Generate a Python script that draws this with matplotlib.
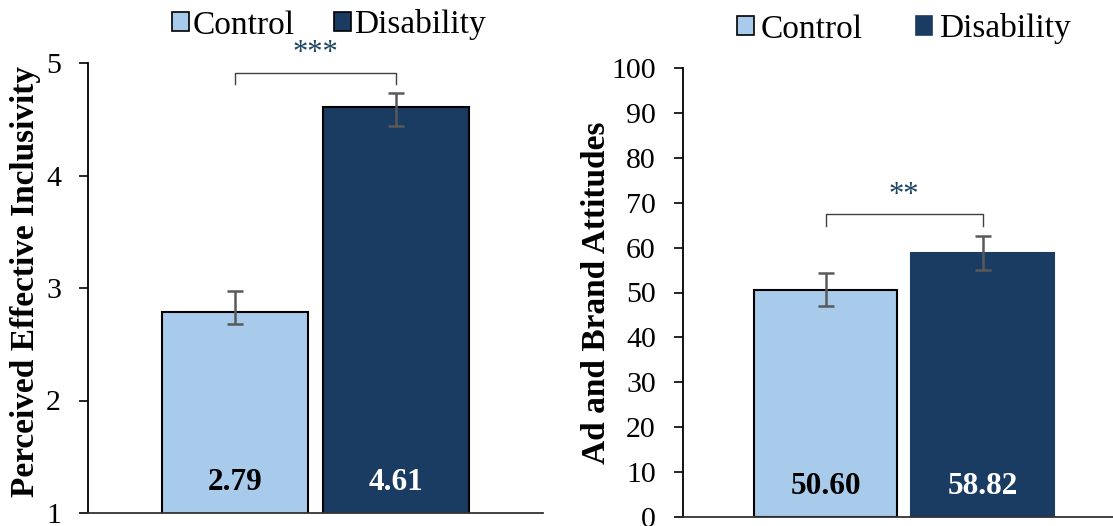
import matplotlib.pyplot as plt
from matplotlib.patches import Patch
import numpy as np

plt.rcParams['font.family'] = ['Liberation Serif', 'DejaVu Serif']

groups = ["Control", "Disability"]

# Perceived Effective Inclusivity
incl_means = [2.79, 4.61]
incl_err_low = [0.11, 0.17]
incl_err_high = [0.18, 0.12]
incl_ticks = [1, 2, 3, 4, 5]
incl_sig = "***"

# Ad and Brand Attitudes
att_means = [50.60, 58.82]
att_err_low = [3.7, 3.7]
att_err_high = [3.7, 3.7]
att_ticks = [0, 10, 20, 30, 40, 50, 60, 70, 80, 90, 100]
att_sig = "**"

col_ctrl = '#a8caeb'
col_dis = '#1a3c63'
col_err = '#595959'
col_star = '#1f4560'

W, H = 1113, 526
fig = plt.figure(figsize=(W / 100, H / 100), dpi=100)
ax1 = fig.add_axes([88 / W, 1 - 513 / H, (543 - 88) / W, 450 / H])
ax2 = fig.add_axes([683 / W, 1 - 517 / H, (W - 683) / W, 449 / H])


def draw_panel(ax, means, elow, ehigh, ticks, ylim, xlim, ylabel, lab_xy, sig, br_top, br_bot,
               star_y, dis_edge):
    x = np.arange(len(means))
    edges = ['black', 'black' if dis_edge else col_dis]
    ax.bar(x, means, width=0.91, color=[col_ctrl, col_dis], edgecolor=edges, linewidth=1.5,
           zorder=2)
    ax.errorbar(x, means, yerr=[elow, ehigh], fmt='none', ecolor=col_err, elinewidth=1.8,
                capsize=6, capthick=1.8, zorder=3)
    # подписи значений у основания столбцов
    for xi, m, c in zip(x, means, ['black', 'white']):
        ax.text(xi, 0.067, "{:.2f}".format(m), transform=ax.get_xaxis_transform(),
                ha='center', va='center', fontsize=22.5, fontweight='bold', color=c, zorder=4)
    # скобка значимости
    ax.plot([0, 0, 1, 1], [br_bot, br_top, br_top, br_bot], color='#404040', lw=1.0,
            clip_on=False)
    ax.text(0.5, star_y, sig, ha='center', va='center', fontsize=22, color=col_star,
            clip_on=False)
    ax.set_ylim(*ylim)
    ax.set_xlim(*xlim)
    ax.set_yticks(ticks)
    ax.set_xticks([])
    ax.tick_params(axis='y', direction='out', length=6.5, width=1.2, labelsize=21.5, pad=13)
    ax.spines['top'].set_visible(False)
    ax.spines['right'].set_visible(False)
    ax.spines['left'].set_linewidth(1.3)
    ax.spines['bottom'].set_linewidth(1.3)
    ax.spines['bottom'].set_color('#333333')
    ax.set_ylabel(ylabel, fontsize=24, fontweight='bold')
    ax.yaxis.set_label_coords(*lab_xy)


draw_panel(ax1, incl_means, incl_err_low, incl_err_high, incl_ticks, (1, 5), (-0.913, 1.913),
           "Perceived Effective Inclusivity", (-0.103, 0.515), incl_sig, 4.91, 4.81, 5.08, True)
draw_panel(ax2, att_means, att_err_low, att_err_high, att_ticks, (0, 100), (-0.908, 1.83),
           "Ad and Brand Attitudes", (-0.165, 0.5), att_sig, 67.5, 64.8, 71.6, False)

# легенды над панелями
h1 = [Patch(facecolor=col_ctrl, edgecolor='black', linewidth=1.2),
      Patch(facecolor=col_dis, edgecolor='black', linewidth=1.2)]
fig.legend(h1, groups, loc='center', bbox_to_anchor=(329 / W, 1 - 25 / H), ncol=2,
           frameon=False, fontsize=24, handlelength=0.5, handleheight=0.5, handletextpad=0.1,
           columnspacing=1.2, borderpad=0, borderaxespad=0)
h2 = [Patch(facecolor=col_ctrl, edgecolor='black', linewidth=1.2),
      Patch(facecolor=col_dis, edgecolor=col_dis, linewidth=1.2)]
fig.legend(h2, groups, loc='center', bbox_to_anchor=(904 / W, 1 - 29 / H), ncol=2,
           frameon=False, fontsize=24, handlelength=0.5, handleheight=0.5, handletextpad=0.2,
           columnspacing=1.6, borderpad=0, borderaxespad=0)

fig.savefig('out.png', dpi=100)
